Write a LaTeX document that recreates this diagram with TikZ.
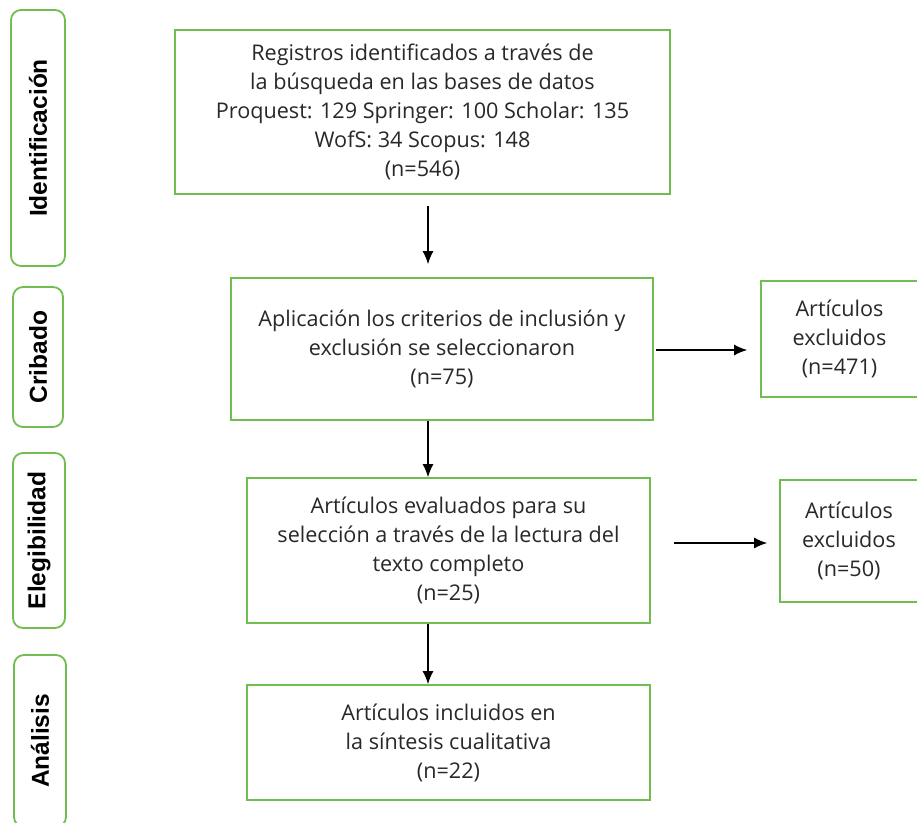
\documentclass[tikz,border=0pt]{standalone}
\usepackage{fontspec}
\setmainfont{Open Sans}
\newfontfamily\lblfont{Liberation Sans}
\usetikzlibrary{arrows.meta}
\definecolor{grn}{RGB}{112,190,80}
\definecolor{txt}{RGB}{40,40,40}
\begin{document}
\begin{tikzpicture}[x=1pt,y=-1pt,
  box/.style={draw=grn, line width=1.8pt, align=center, inner sep=0pt, text=txt,
    font=\fontsize{21.6}{29}\selectfont},
  phase/.style={draw=grn, line width=1.8pt, rounded corners=10pt, inner sep=0pt,
    rotate=90, font=\lblfont\bfseries\fontsize{24.5}{28}\selectfont},
  arr/.style={-{Latex[length=13pt,width=11pt]}, line width=1.2pt}]
\useasboundingbox[fill=white] (0,0) rectangle (917,822);

% phase labels
\node[phase, minimum width=256pt, minimum height=54pt] (p1) at (38,138) {Identificación};
\node[phase, minimum width=140pt, minimum height=50pt] (p2) at (38,357) {Cribado};
\node[phase, minimum width=175pt, minimum height=52pt] (p3) at (39,540.5) {Elegibilidad};
\node[phase, minimum width=172pt, minimum height=52pt] (p4) at (40,741) {Análisis};

% main boxes
\node[box, minimum width=495pt, minimum height=164pt] (b1) at (422.5,112)
  {Registros identificados a través de\\la búsqueda en las bases de datos\\Proquest: 129 Springer: 100 Scholar: 135\\WofS: 34 Scopus: 148\\(n=546)};
\node[box, minimum width=422pt, minimum height=142pt] (b2) at (442,349)
  {Aplicación los criterios de inclusión y\\exclusión se seleccionaron\\(n=75)};
\node[box, minimum width=403pt, minimum height=145pt] (b3) at (448.5,550.5)
  {Artículos evaluados para su\\selección a través de la lectura del\\texto completo\\(n=25)};
\node[box, minimum width=403pt, minimum height=115pt] (b4) at (448.5,742.5)
  {Artículos incluidos en\\la síntesis cualitativa\\(n=22)};

% excluded boxes
\node[box, minimum width=157pt, minimum height=116pt] (e1) at (839.5,339)
  {Artículos\\excluidos\\(n=471)};
\node[box, minimum width=138pt, minimum height=122pt] (e2) at (849,541)
  {Artículos\\excluidos\\(n=50)};

% arrows
\coordinate (ax) at (428,0);
\coordinate (h1) at (0,350);
\coordinate (h2) at (0,543);
\draw[arr, shorten <=11pt, shorten >=13pt] (b1.south -| ax) -- (b2.north -| ax);
\draw[arr] (b2.south -| ax) -- (b3.north -| ax);
\draw[arr] (b3.south -| ax) -- (b4.north -| ax);
\draw[arr, shorten <=2pt, shorten >=13pt] (b2.east |- h1) -- (e1.west |- h1);
\draw[arr, shorten <=23pt, shorten >=12pt] (b3.east |- h2) -- (e2.west |- h2);
\end{tikzpicture}
\end{document}
